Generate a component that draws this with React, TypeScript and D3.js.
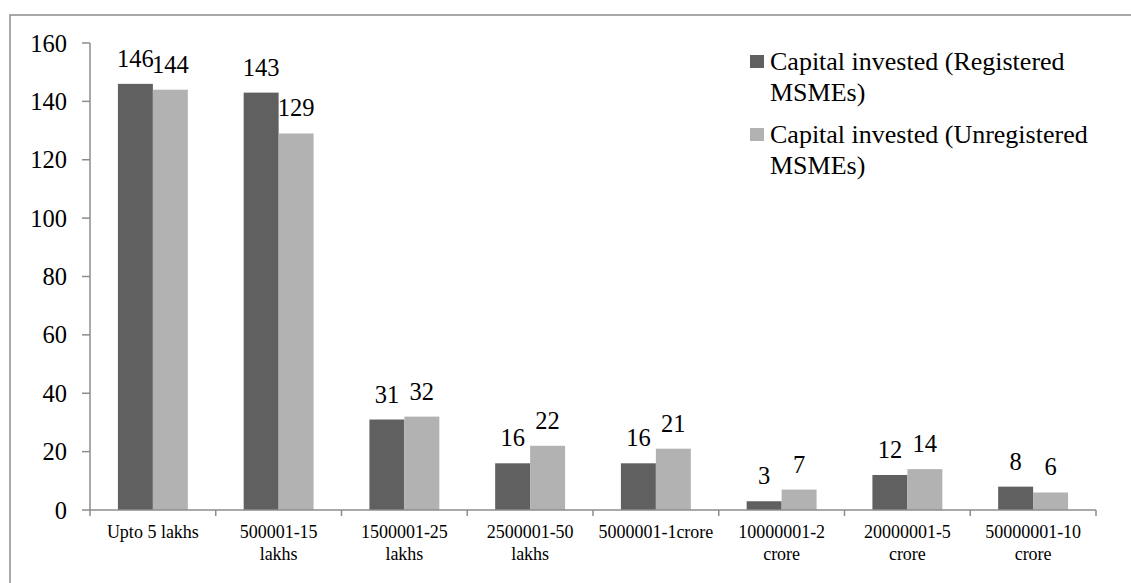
import React from "react";
import * as d3 from "d3";

const categories: string[][] = [
  ["Upto 5 lakhs"],
  ["500001-15", "lakhs"],
  ["1500001-25", "lakhs"],
  ["2500001-50", "lakhs"],
  ["5000001-1crore"],
  ["10000001-2", "crore"],
  ["20000001-5", "crore"],
  ["50000001-10", "crore"],
];
const registered = [146, 143, 31, 16, 16, 3, 12, 8];
const unregistered = [144, 129, 32, 22, 21, 7, 14, 6];
const seriesNames = [
  ["Capital invested (Registered", "MSMEs)"],
  ["Capital invested (Unregistered", "MSMEs)"],
];
const seriesColors = ["#606060", "#b2b2b2"];
const yTicks = [0, 20, 40, 60, 80, 100, 120, 140, 160];

const W = 1131;
const H = 583;
const FONT = '"Liberation Serif", "Times New Roman", serif';

export default function App() {
  const left = 90;
  const right = 1096;
  const top = 43;
  const bottom = 510;

  const keys = categories.map((c) => c.join(" "));
  const x0 = d3.scaleBand<string>().domain(keys).range([left, right]).padding(0);
  const bw = x0.bandwidth();
  const gap = bw * 0.222;
  const x1 = d3
    .scaleBand<number>()
    .domain([0, 1])
    .range([gap, bw - gap])
    .padding(0);
  const y = d3.scaleLinear().domain([0, 160]).range([bottom, top]);

  const series = [registered, unregistered];

  return (
    <svg
      width={W}
      height={H}
      style={{ position: "absolute", left: 0, top: 0, background: "#fff", fontFamily: FONT }}
    >
      <rect x={10} y={15} width={W + 10} height={H + 10} fill="#fff" stroke="#8c8c8c" strokeWidth={1.5} />

      {/* y axis */}
      <line x1={left} x2={left} y1={top} y2={bottom} stroke="#8c8c8c" strokeWidth={1.5} />
      {yTicks.map((t) => (
        <g key={t}>
          <line x1={left - 8} x2={left} y1={y(t)} y2={y(t)} stroke="#8c8c8c" strokeWidth={1.5} />
          <text x={67} y={y(t)} dy="0.35em" textAnchor="end" fontSize={24.5} fill="#000">
            {t}
          </text>
        </g>
      ))}

      {/* bars */}
      {series.map((vals, si) =>
        vals.map((v, i) => {
          const bx = (x0(keys[i]) as number) + (x1(si) as number);
          return (
            <g key={`${si}-${i}`}>
              <rect
                x={bx}
                y={y(v)}
                width={x1.bandwidth()}
                height={bottom - y(v)}
                fill={seriesColors[si]}
              />
              <text
                x={bx + x1.bandwidth() / 2}
                y={y(v) - 17}
                textAnchor="middle"
                fontSize={24.5}
                fill="#000"
              >
                {v}
              </text>
            </g>
          );
        })
      )}

      {/* x axis */}
      <line x1={left} x2={right} y1={bottom} y2={bottom} stroke="#8c8c8c" strokeWidth={1.5} />
      {keys.map((k) => (
        <line
          key={`t-${k}`}
          x1={x0(k) as number}
          x2={x0(k) as number}
          y1={bottom}
          y2={bottom + 6}
          stroke="#8c8c8c"
          strokeWidth={1.5}
        />
      ))}
      <line x1={right} x2={right} y1={bottom} y2={bottom + 6} stroke="#8c8c8c" strokeWidth={1.5} />
      {categories.map((lines, i) => (
        <text
          key={`c-${i}`}
          x={(x0(keys[i]) as number) + bw / 2}
          y={538}
          textAnchor="middle"
          fontSize={18}
          fill="#000"
        >
          {lines.map((ln, j) => (
            <tspan key={j} x={(x0(keys[i]) as number) + bw / 2} dy={j === 0 ? 0 : 22}>
              {ln}
            </tspan>
          ))}
        </text>
      ))}

      {/* legend */}
      {seriesNames.map((lines, si) => {
        const base = 70 + si * 73;
        return (
          <g key={`l-${si}`}>
            <rect x={750} y={base - 15} width={14} height={13} fill={seriesColors[si]} />
            <text x={770} y={base} fontSize={26} fill="#000">
              {lines.map((ln, j) => (
                <tspan key={j} x={770} dy={j === 0 ? 0 : 31}>
                  {ln}
                </tspan>
              ))}
            </text>
          </g>
        );
      })}
    </svg>
  );
}
